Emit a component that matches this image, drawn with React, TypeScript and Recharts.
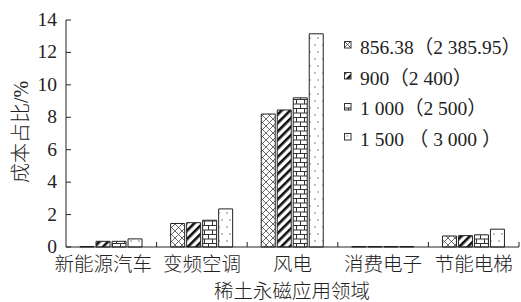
import React from 'react';
import { BarChart, Bar, XAxis, YAxis } from 'recharts';

// application fields and cost share (%) per magnet price scenario
const categories = ['新能源汽车', '变频空调', '风电', '消费电子', '节能电梯'];
const seriesNames = ['856.38（2 385.95）', '900（2 400）', '1 000（2 500）', '1 500 （ 3 000 ）'];
const s1 = [0.03, 1.45, 8.2, 0.03, 0.68];
const s2 = [0.35, 1.5, 8.45, 0.03, 0.7];
const s3 = [0.35, 1.65, 9.2, 0.03, 0.75];
const s4 = [0.5, 2.35, 13.15, 0.03, 1.1];
const yTicks = [0, 2, 4, 6, 8, 10, 12, 14];

const data = categories.map((name, i) => ({ name, s1: s1[i], s2: s2[i], s3: s3[i], s4: s4[i] }));
const keys = ['s1', 's2', 's3', 's4'];
const patterns = ['pCross', 'pStripe', 'pBrick', 'pDots'];

const FONT = "'Liberation Serif', 'Noto Sans CJK SC', serif";
const CJK = "'Noto Sans CJK SC', 'Liberation Serif', serif";
const W = 521;
const H = 302;
const M = { top: 20, right: 2, left: 0, bottom: 0 };
const Y_W = 66;
const BAND = (W - M.right - Y_W) / categories.length;

const YTick = (props: any) => {
  const { x, y, payload } = props;
  return (
    <g>
      <line x1={x + 8} x2={x + 13} y1={y} y2={y} stroke="#222" />
      <text x={x - 1} y={y + 6} textAnchor="end" fontSize={19.5} fontFamily={FONT} fill="#222">
        {payload.value}
      </text>
    </g>
  );
};

const XTick = (props: any) => {
  const { x, y, payload, index } = props;
  const shift = index === 0 ? -8 : 0;
  return (
    <g>
      <line x1={x + BAND / 2} x2={x + BAND / 2} y1={y} y2={y - 5} stroke="#222" />
      <text x={x + shift} y={y + 24} textAnchor="middle" fontSize={19.5} fontWeight={300} fontFamily={CJK} fill="#222">
        {payload.value}
      </text>
    </g>
  );
};

const LegendBox = () => (
  <div style={{ position: 'absolute', left: 344, top: 30, fontFamily: FONT, fontSize: 19.5, color: '#222' }}>
    {seriesNames.map((n, i) => (
      <div key={n} style={{ display: 'flex', alignItems: 'center', height: 30.7, whiteSpace: 'nowrap' }}>
        <svg width={8} height={8} style={{ marginRight: 8 }}>
          <rect x={0.5} y={0.5} width={6.5} height={6.5} fill={`url(#${patterns[i]})`} stroke="#333" />
        </svg>
        <span>{n}</span>
      </div>
    ))}
  </div>
);

export default function App() {
  return (
    <div style={{ position: 'absolute', left: 0, top: 0, width: W, height: H, background: '#fff', overflow: 'hidden' }}>
      <BarChart width={W} height={H} data={data} margin={M} barGap={2} barCategoryGap="15.5%">
        <defs>
          <pattern id="pCross" patternUnits="userSpaceOnUse" width={7} height={7}>
            <rect width={7} height={7} fill="#fff" />
            <path d="M0,0 L7,7 M7,0 L0,7" stroke="#444" strokeWidth={0.8} />
          </pattern>
          <pattern id="pStripe" patternUnits="userSpaceOnUse" width={6} height={6} patternTransform="rotate(45)">
            <rect width={6} height={6} fill="#fff" />
            <rect width={2.6} height={6} fill="#111" />
          </pattern>
          <pattern id="pBrick" patternUnits="userSpaceOnUse" width={8} height={9}>
            <rect width={8} height={9} fill="#fff" />
            <path d="M0,0.5 H8 M0,5 H8 M0.5,0.5 V5 M4.5,5 V9" stroke="#333" strokeWidth={1} />
          </pattern>
          <pattern id="pDots" patternUnits="userSpaceOnUse" width={8} height={14}>
            <rect width={8} height={14} fill="#fff" />
            <circle cx={3} cy={3} r={0.7} fill="#555" />
            <circle cx={6} cy={10} r={0.7} fill="#555" />
          </pattern>
        </defs>
        <XAxis
          dataKey="name"
          height={H - 247}
          axisLine={{ stroke: '#222' }}
          tickLine={false}
          tickSize={0}
          tickMargin={0}
          interval={0}
          tick={<XTick />}
        />
        <YAxis
          width={Y_W}
          domain={[0, 14]}
          ticks={yTicks}
          axisLine={{ stroke: '#222' }}
          tickLine={false}
          tickSize={0}
          tickMargin={8}
          tick={<YTick />}
        />
        {keys.map((k, i) => (
          <Bar key={k} dataKey={k} name={seriesNames[i]} fill={`url(#${patterns[i]})`} stroke="#222" strokeWidth={1} isAnimationActive={false} />
        ))}
      </BarChart>
      <LegendBox />
      <div
        style={{
          position: 'absolute', left: 19, top: 132, transform: 'translate(-50%, -50%) rotate(-90deg)',
          whiteSpace: 'nowrap', fontFamily: FONT, fontSize: 20, fontWeight: 300, color: '#222',
        }}
      >
        成本占比/%
      </div>
      <div
        style={{
          position: 'absolute', left: 292, top: 290, transform: 'translate(-50%, -50%)',
          whiteSpace: 'nowrap', fontFamily: CJK, fontSize: 19.5, fontWeight: 300, color: '#222', lineHeight: '20px',
        }}
      >
        稀土永磁应用领域
      </div>
    </div>
  );
}
